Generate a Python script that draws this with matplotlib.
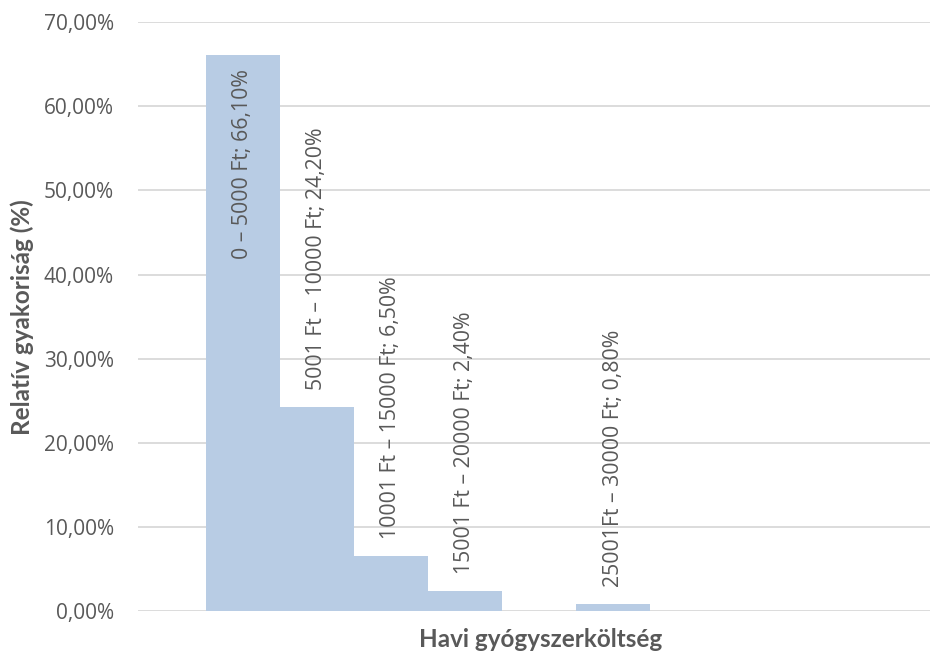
import matplotlib
matplotlib.use("Agg")
import matplotlib.pyplot as plt
from matplotlib.ticker import FuncFormatter

# adatok
categories = ["0 – 5000 Ft", "5001 Ft – 10000 Ft", "10001 Ft – 15000 Ft",
              "15001 Ft – 20000 Ft", "20001 Ft – 25000 Ft", "25001Ft – 30000 Ft"]
values = [66.1, 24.2, 6.5, 2.4, 0.0, 0.8]
show_label = [True, True, True, True, False, True]

bar_color = "#B8CCE4"
grid_color = "#D9D9D9"
text_color = "#595959"

plt.rcParams['font.family'] = ['Open Sans', 'DejaVu Sans']

fig = plt.figure(figsize=(9.3, 6.51), dpi=100)
ax = fig.add_axes([0.148, 0.0614, 0.852, 0.9046])

x = list(range(len(values)))
ax.bar(x, values, width=1.0, color=bar_color, zorder=2)

ax.set_xlim(-1.42, 9.28)
ax.set_ylim(0, 70)
ax.set_yticks(range(0, 71, 10))
ax.yaxis.set_major_formatter(FuncFormatter(lambda v, p: ("%.2f%%" % v).replace(".", ",")))
ax.set_xticks([])
ax.tick_params(axis='y', length=0, pad=17, labelsize=15, labelcolor=text_color)
ax.grid(axis='y', color=grid_color, linewidth=1.3, zorder=0)
for s in ax.spines.values():
    s.set_visible(False)

# feliratok
for i, (cat, v) in enumerate(zip(categories, values)):
    if not show_label[i]:
        continue
    txt = "%s; %s%%" % (cat, ("%.2f" % v).replace(".", ","))
    if v > 50:
        ax.annotate(txt, (i, v), xytext=(0, -14), textcoords='offset pixels',
                    rotation=90, ha='center', va='top', fontsize=15.3, color=text_color, zorder=3)
    else:
        ax.annotate(txt, (i, v), xytext=(0, 17), textcoords='offset pixels',
                    rotation=90, ha='center', va='bottom', fontsize=15.3, color=text_color, zorder=3)

fig.text(0.581, 0.017, "Havi gyógyszerköltség", ha='center', va='center',
         fontsize=17.5, fontweight='bold', color=text_color, family=['Lato', 'DejaVu Sans'])
fig.text(0.024, 0.513, "Relatív gyakoriság (%)", ha='center', va='center', rotation=90,
         fontsize=17.5, fontweight='bold', color=text_color, family=['Lato', 'DejaVu Sans'])

fig.savefig("out.png", dpi=100)
